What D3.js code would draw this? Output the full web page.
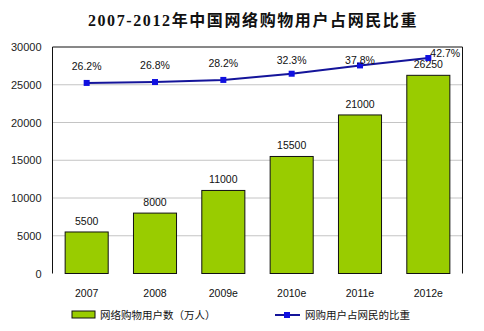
<!DOCTYPE html>
<html><head><meta charset="utf-8">
<script src="https://cdn.jsdelivr.net/npm/d3@7"></script>
<style>
html,body{margin:0;padding:0;background:#fff;}
svg{display:block;}
</style></head>
<body>
<svg id="c" width="484" height="331"></svg>
<script>
const title = "2007-2012年中国网络购物用户占网民比重";
const categories = ["2007", "2008", "2009e", "2010e", "2011e", "2012e"];
const users = [5500, 8000, 11000, 15500, 21000, 26250];
const shares = [0.262, 0.268, 0.282, 0.323, 0.378, 0.427];
const yTicks = [0, 5000, 10000, 15000, 20000, 25000, 30000];
const legendBar = "网络购物用户数（万人）";
const legendLine = "网购用户占网民的比重";

const svg = d3.select("#c");
const L = 52.5, R = 462.5, T = 47, B = 273.5;
const numFont = "'Liberation Sans', Arial, sans-serif";

const x = d3.scaleBand().domain(categories).range([L, R]).paddingInner(0.37).paddingOuter(0.185);
const y = d3.scaleLinear().domain([0, 30000]).range([B, T]);
const y2 = d3.scaleLinear().domain([-1, 0.5]).range([B, T]);

// title
svg.append("text").attr("x", 253).attr("y", 26).attr("text-anchor", "middle")
  .attr("font-family", "'Liberation Serif', 'Noto Sans CJK SC', serif")
  .attr("font-weight", "bold").attr("font-size", 16).attr("letter-spacing", 1.6)
  .attr("fill", "#111").text(title);

// gridlines
svg.append("g").selectAll("line").data(yTicks.filter(d => d > 0 && d < 30000)).join("line")
  .attr("x1", L).attr("x2", R).attr("y1", d => y(d)).attr("y2", d => y(d))
  .attr("stroke", "#c4c4c4").attr("stroke-width", 1);

// y axis labels
const ya = svg.append("g").attr("transform", `translate(${L},0)`)
  .call(d3.axisLeft(y).tickValues(yTicks).tickSize(0).tickPadding(11).tickFormat(d3.format("d")));
ya.select(".domain").remove();
ya.selectAll("text").attr("font-family", numFont).attr("font-size", 11).attr("fill", "#222");

// bars
svg.append("g").selectAll("rect").data(users).join("rect")
  .attr("x", (d, i) => x(categories[i]))
  .attr("y", d => y(d))
  .attr("width", x.bandwidth())
  .attr("height", d => B - y(d))
  .attr("fill", "#99cc00").attr("stroke", "#111").attr("stroke-width", 1);

// bar labels
svg.append("g").selectAll("text").data(users).join("text")
  .attr("x", (d, i) => x(categories[i]) + x.bandwidth() / 2)
  .attr("y", d => y(d) - 11).attr("dy", "0.35em")
  .attr("text-anchor", "middle").attr("font-family", numFont).attr("font-size", 10.5)
  .attr("fill", "#111").text(d => d);

// plot border (top, left, right)
svg.append("path")
  .attr("d", `M${L},${B}V${T}H${R}V${B}`)
  .attr("fill", "none").attr("stroke", "#111").attr("stroke-width", 1);

// line
const cx = i => x(categories[i]) + x.bandwidth() / 2;
const line = d3.line().x((d, i) => cx(i)).y(d => y2(d));
svg.append("path").datum(shares).attr("d", line)
  .attr("fill", "none").attr("stroke", "#14149a").attr("stroke-width", 2);
svg.append("g").selectAll("rect").data(shares).join("rect")
  .attr("x", (d, i) => cx(i) - 3).attr("y", d => y2(d) - 3)
  .attr("width", 6).attr("height", 6).attr("fill", "#1010e0");

// line labels
const last = shares.length - 1;
svg.append("g").selectAll("text").data(shares).join("text")
  .attr("x", (d, i) => i === last ? cx(i) + 2 : cx(i))
  .attr("y", (d, i) => i === last ? y2(d) - 5 : Math.max(y2(d) - 17, 60)).attr("dy", "0.35em")
  .attr("text-anchor", (d, i) => i === last ? "start" : "middle")
  .attr("font-family", numFont).attr("font-size", 10.5).attr("fill", "#111")
  .text(d => d3.format(".1%")(d));

// x labels
svg.append("g").selectAll("text").data(categories).join("text")
  .attr("x", d => x(d) + x.bandwidth() / 2).attr("y", 293).attr("dy", "0.35em")
  .attr("text-anchor", "middle").attr("font-family", numFont).attr("font-size", 10.5)
  .attr("fill", "#111").text(d => d);

// legend
const lg = svg.append("g");
lg.append("rect").attr("x", 72).attr("y", 311).attr("width", 23).attr("height", 7)
  .attr("fill", "#99cc00").attr("stroke", "#111").attr("stroke-width", 1);
lg.append("text").attr("x", 100).attr("y", 315).attr("dy", "0.35em")
  .attr("font-family", "'Noto Sans CJK SC', sans-serif").attr("font-size", 10.5)
  .attr("letter-spacing", 0).attr("fill", "#111").text(legendBar);
lg.append("line").attr("x1", 275).attr("x2", 300).attr("y1", 315).attr("y2", 315)
  .attr("stroke", "#14149a").attr("stroke-width", 2);
lg.append("rect").attr("x", 284).attr("y", 312).attr("width", 6).attr("height", 6).attr("fill", "#1010e0");
lg.append("text").attr("x", 305).attr("y", 315).attr("dy", "0.35em")
  .attr("font-family", "'Noto Sans CJK SC', sans-serif").attr("font-size", 10.5)
  .attr("fill", "#111").text(legendLine);
</script>
</body></html>
